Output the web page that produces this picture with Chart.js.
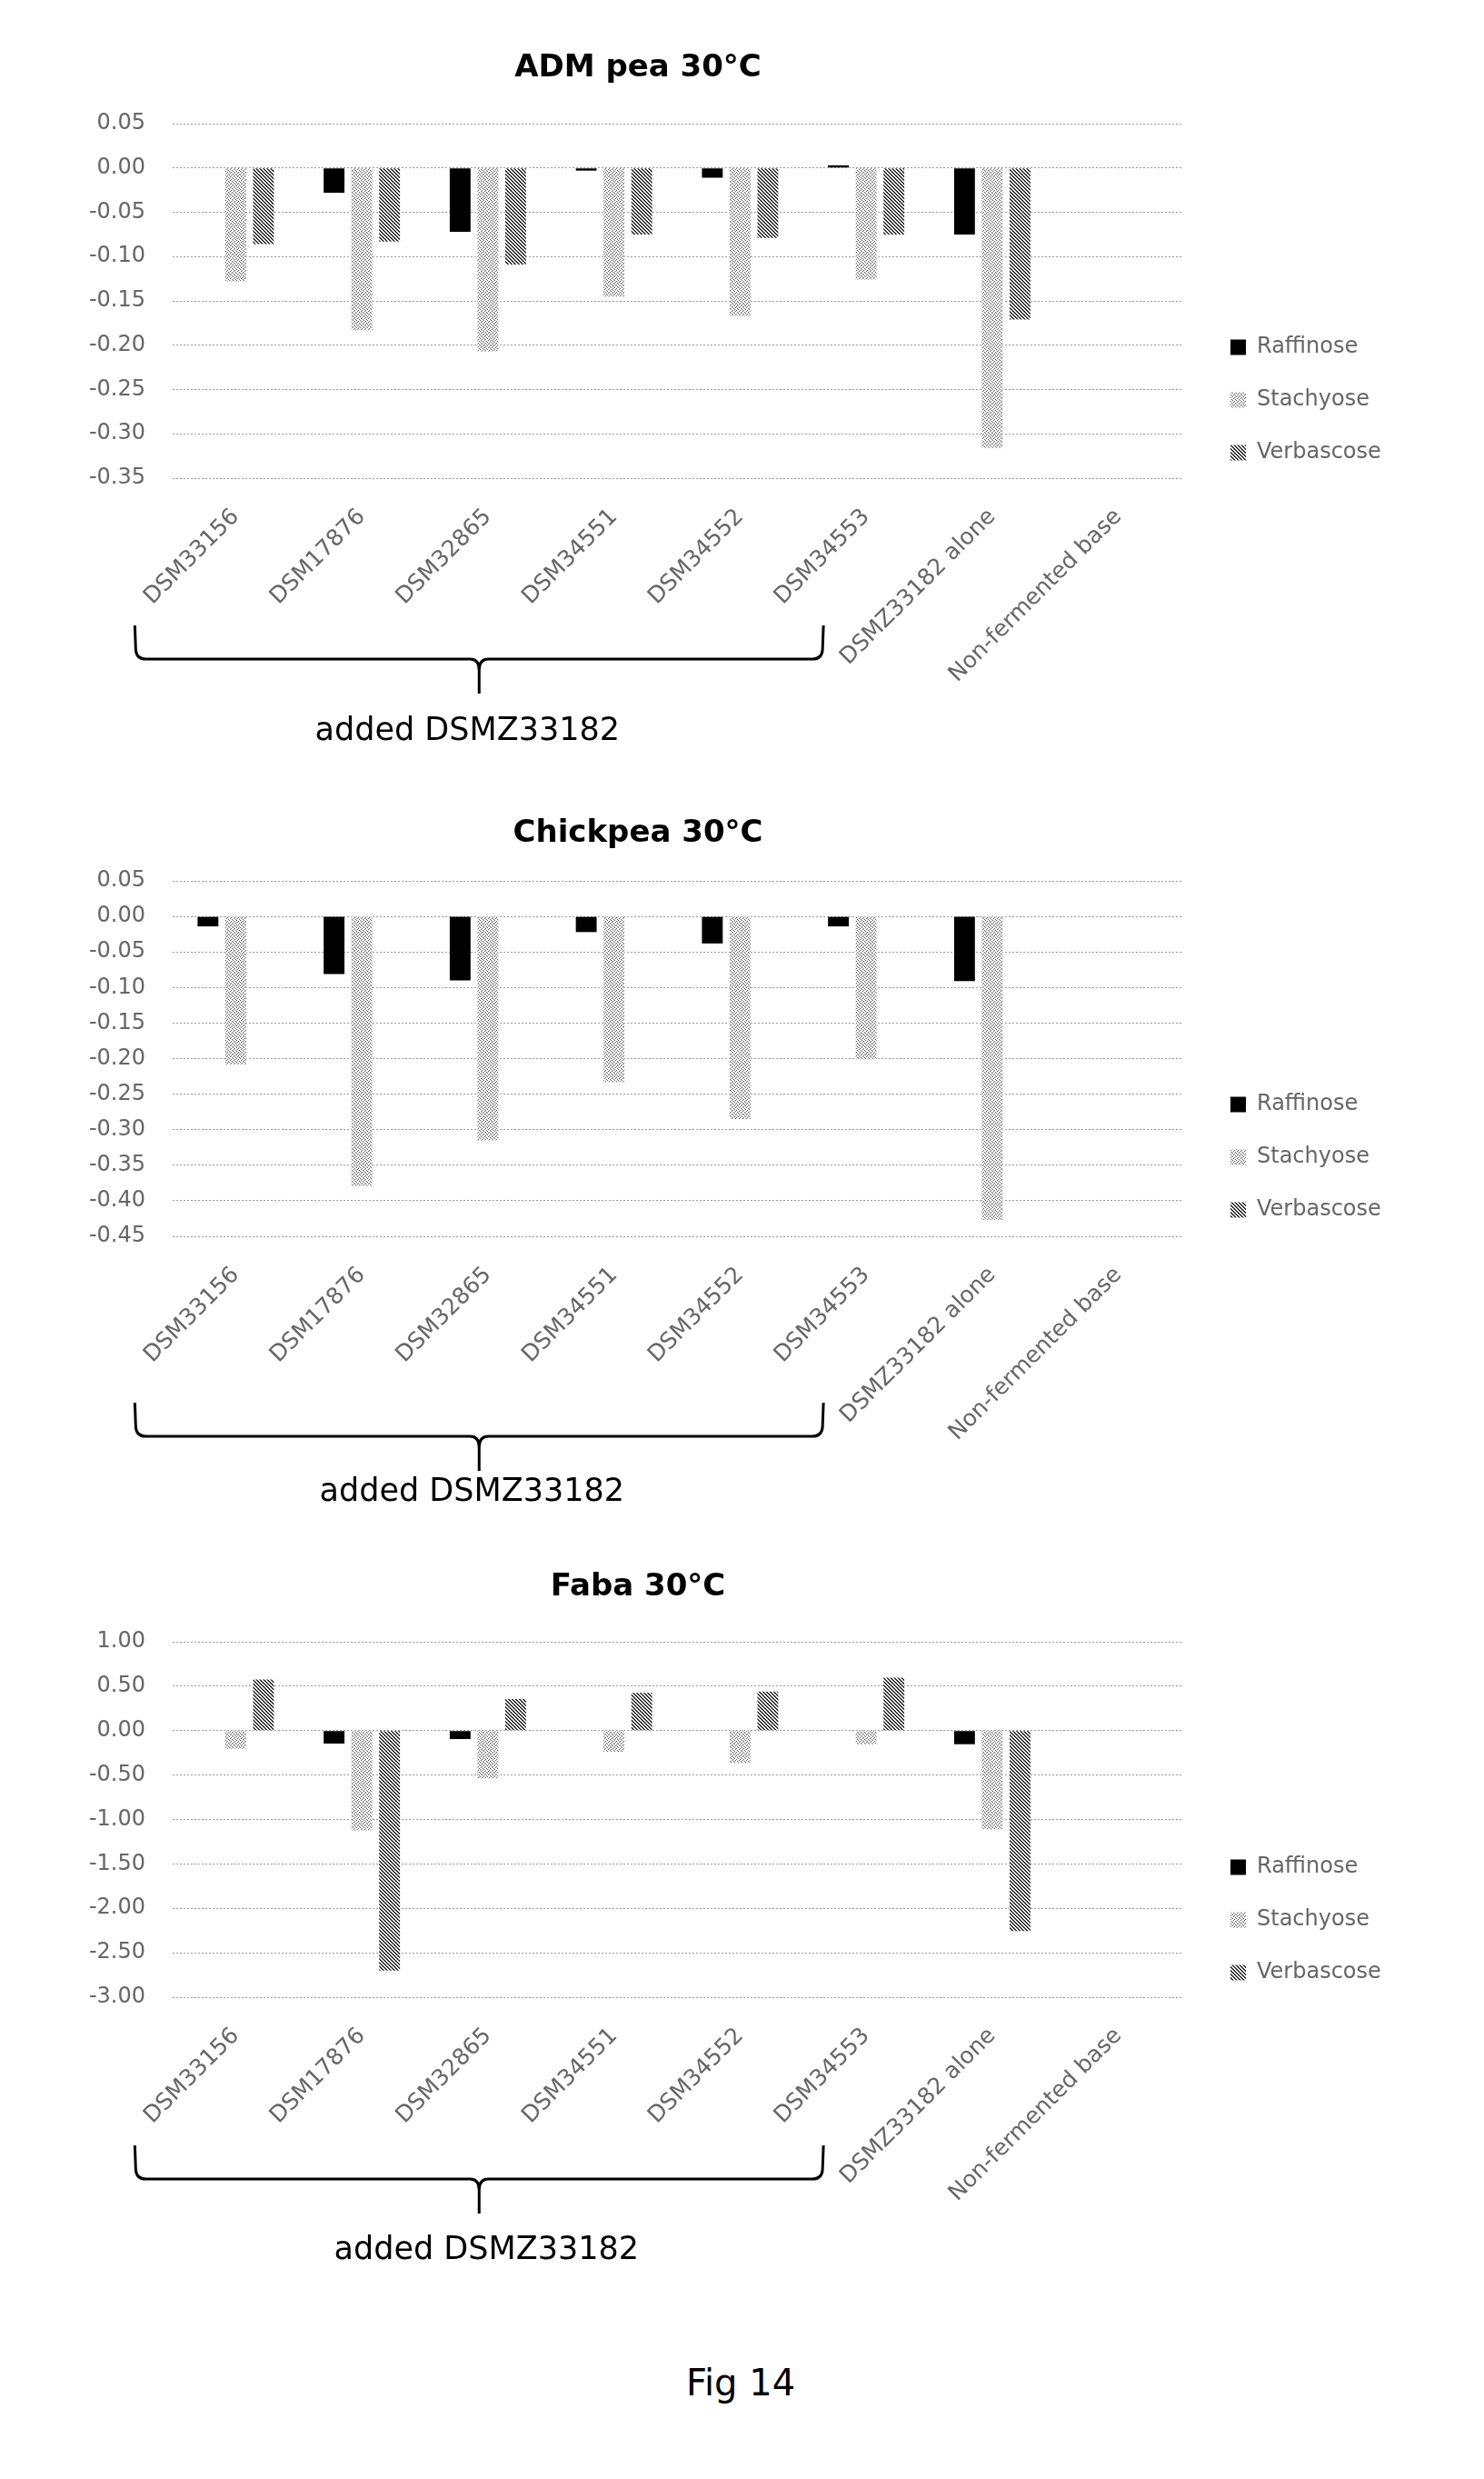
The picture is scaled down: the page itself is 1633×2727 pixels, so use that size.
<!DOCTYPE html>
<html lang="en">
<head>
    <meta charset="UTF-8">
    <title>Fig 14</title>
    <script src="https://cdn.jsdelivr.net/npm/chart.js@4"></script>
    <style>
        body {
            margin: 0;
            width: 1633px;
            height: 2727px;
            position: relative;
            overflow: hidden;
            background: #fff;
            font-family: "DejaVu Sans", sans-serif;
        }
        canvas {
            position: absolute;
            left: 0;
        }
        .fig {
            position: absolute;
            left: 615px;
            top: 2597px;
            width: 400px;
            text-align: center;
            font-size: 40px;
            line-height: 48px;
            color: #000;
        }
    </style>
</head>
<body>

    <canvas id="admChart" width="1633" height="880" style="top:0px"></canvas>
    <canvas id="chickpeaChart" width="1633" height="786" style="top:880px"></canvas>
    <canvas id="fabaChart" width="1633" height="892" style="top:1666px"></canvas>
    <div class="fig">Fig 14</div>

    <script>
        // categories and series
        const categories = ['DSM33156', 'DSM17876', 'DSM32865', 'DSM34551', 'DSM34552', 'DSM34553', 'DSMZ33182 alone', 'Non-fermented base'];
        const sugars = ['Raffinose', 'Stachyose', 'Verbascose'];

        // ADM pea 30°C
        const admRaffinose = [0, -0.028, -0.072, -0.003, -0.011, 0.003, -0.075, 0];
        const admStachyose = [-0.128, -0.183, -0.207, -0.145, -0.167, -0.126, -0.316, 0];
        const admVerbascose = [-0.086, -0.083, -0.109, -0.075, -0.079, -0.075, -0.171, 0];
        const admAxis = [-0.35, 0.05, 0.05];   // min, max, step

        // Chickpea 30°C
        const chickRaffinose = [-0.014, -0.081, -0.090, -0.022, -0.038, -0.014, -0.091, 0];
        const chickStachyose = [-0.208, -0.379, -0.315, -0.233, -0.285, -0.201, -0.427, 0];
        const chickVerbascose = [0, 0, 0, 0, 0, 0, 0, 0];
        const chickAxis = [-0.45, 0.05, 0.05];

        // Faba 30°C
        const fabaRaffinose = [0, -0.146, -0.095, 0, 0, 0, -0.153, 0];
        const fabaStachyose = [-0.204, -1.123, -0.538, -0.238, -0.361, -0.153, -1.110, 0];
        const fabaVerbascose = [0.575, -2.700, 0.357, 0.426, 0.439, 0.596, -2.257, 0];
        const fabaAxis = [-3, 1, 0.5];

        const groupLabel = 'added DSMZ33182';

        Chart.defaults.font.family = '"DejaVu Sans", sans-serif';
        Chart.defaults.color = '#666';

        // black / light stipple / dark hatch, like the printed figure
        function fills(ctx) {
            const tile = (paint) => {
                const c = document.createElement('canvas');
                c.width = c.height = 4;
                const g = c.getContext('2d');
                g.fillStyle = '#fff';
                g.fillRect(0, 0, 4, 4);
                paint(g);
                return ctx.createPattern(c, 'repeat');
            };
            return [
                '#000',
                tile(g => {
                    g.fillStyle = '#555';
                    [[0, 0], [2, 1], [1, 2], [3, 3]].forEach(([x, y]) => g.fillRect(x, y, 1, 1));
                }),
                tile(g => {
                    g.fillStyle = '#333';
                    for (let y = 0; y < 4; y++) {
                        g.fillRect(y % 4, y, 1, 1);
                        g.fillRect((y + 1) % 4, y, 1, 1);
                    }
                })
            ];
        }

        // moves legend and title sideways after chart.js has laid them out
        const nudge = {
            id: 'nudge',
            afterLayout(chart, args, o) {
                const lg = chart.legend;
                lg.left += o.legend;
                lg.width = 300;
                lg.right = lg.left + lg.width;
                chart.titleBlock.left += o.title;
                chart.titleBlock.right += o.title;
            }
        };

        // curly bracket under the first six strains
        const bracket = {
            id: 'bracket',
            afterDraw(chart, args, o) {
                const ctx = chart.ctx;
                const sx = chart.scales.x;
                const b = chart.chartArea.bottom;
                const x0 = sx.getPixelForValue(0) - 111;
                const x1 = sx.getPixelForValue(5) - 47;
                const xc = (x0 + x1) / 2;
                const yT = b + o.top, yH = yT + 37, yP = yT + 75;
                ctx.save();
                ctx.strokeStyle = '#000';
                ctx.lineWidth = 3;
                ctx.lineJoin = 'round';
                ctx.beginPath();
                ctx.moveTo(x0, yT);
                ctx.lineTo(x0 + 1, yH - 10);
                ctx.quadraticCurveTo(x0 + 2, yH, x0 + 12, yH);
                ctx.lineTo(xc - 10, yH);
                ctx.quadraticCurveTo(xc, yH, xc, yH + 12);
                ctx.moveTo(x1, yT);
                ctx.lineTo(x1 - 1, yH - 10);
                ctx.quadraticCurveTo(x1 - 2, yH, x1 - 12, yH);
                ctx.lineTo(xc + 10, yH);
                ctx.quadraticCurveTo(xc, yH, xc, yH + 12);
                ctx.lineTo(xc, yP);
                ctx.stroke();
                ctx.fillStyle = '#000';
                ctx.font = '35px "DejaVu Sans", sans-serif';
                ctx.textAlign = 'center';
                ctx.textBaseline = 'middle';
                ctx.fillText(groupLabel, xc + o.textShift, b + o.textY);
                ctx.restore();
            }
        };

        function makeChart(id, title, series, axis, look) {
            const ctx = document.getElementById(id).getContext('2d');
            const colors = fills(ctx);
            return new Chart(ctx, {
                type: 'bar',
                data: {
                    labels: categories,
                    datasets: series.map((values, i) => ({
                        label: sugars[i],
                        data: values,
                        backgroundColor: colors[i],
                        borderWidth: 0
                    }))
                },
                options: {
                    responsive: false,
                    animation: false,
                    events: [],
                    layout: { padding: { left: 0, right: 183, top: 0, bottom: 0 } },
                    datasets: { bar: { categoryPercentage: 0.66, barPercentage: 0.75 } },
                    scales: {
                        x: {
                            grid: { display: false, drawTicks: false },
                            border: { display: false },
                            ticks: {
                                minRotation: 45,
                                maxRotation: 45,
                                autoSkip: false,
                                padding: 28,
                                color: '#666',
                                font: { size: 25 }
                            },
                            afterFit: s => { s.height = look.axisHeight; }
                        },
                        y: {
                            min: axis[0],
                            max: axis[1],
                            grid: { color: '#999', lineWidth: 1, drawTicks: false },
                            border: { display: false, dash: [2, 2] },
                            ticks: {
                                stepSize: axis[2],
                                padding: 30,
                                color: '#666',
                                font: { size: 24 },
                                callback: v => Number(v).toFixed(2)
                            },
                            afterFit: s => { s.width = 190; }
                        }
                    },
                    plugins: {
                        title: {
                            display: true,
                            text: title,
                            color: '#000',
                            font: { size: 34, weight: 'bold', lineHeight: 1 },
                            padding: { top: look.titlePad[0], bottom: look.titlePad[1] }
                        },
                        legend: {
                            position: 'right',
                            maxWidth: 150,
                            labels: {
                                boxWidth: 17,
                                boxHeight: 17,
                                padding: 34,
                                color: '#666',
                                font: { size: 24 }
                            }
                        },
                        tooltip: { enabled: false },
                        nudge: { legend: 20, title: -23 },
                        bracket: look.bracket
                    }
                },
                plugins: [nudge, bracket]
            });
        }

        makeChart('admChart', 'ADM pea 30°C',
            [admRaffinose, admStachyose, admVerbascose], admAxis,
            { titlePad: [58, 44], axisHeight: 354, bracket: { top: 162, textY: 279, textShift: -13 } });

        makeChart('chickpeaChart', 'Chickpea 30°C',
            [chickRaffinose, chickStachyose, chickVerbascose], chickAxis,
            { titlePad: [20, 35], axisHeight: 306, bracket: { top: 183, textY: 282, textShift: -8 } });

        makeChart('fabaChart', 'Faba 30°C',
            [fabaRaffinose, fabaStachyose, fabaVerbascose], fabaAxis,
            { titlePad: [63, 43], axisHeight: 361, bracket: { top: 163, textY: 279, textShift: 8 } });
    </script>

</body>
</html>
